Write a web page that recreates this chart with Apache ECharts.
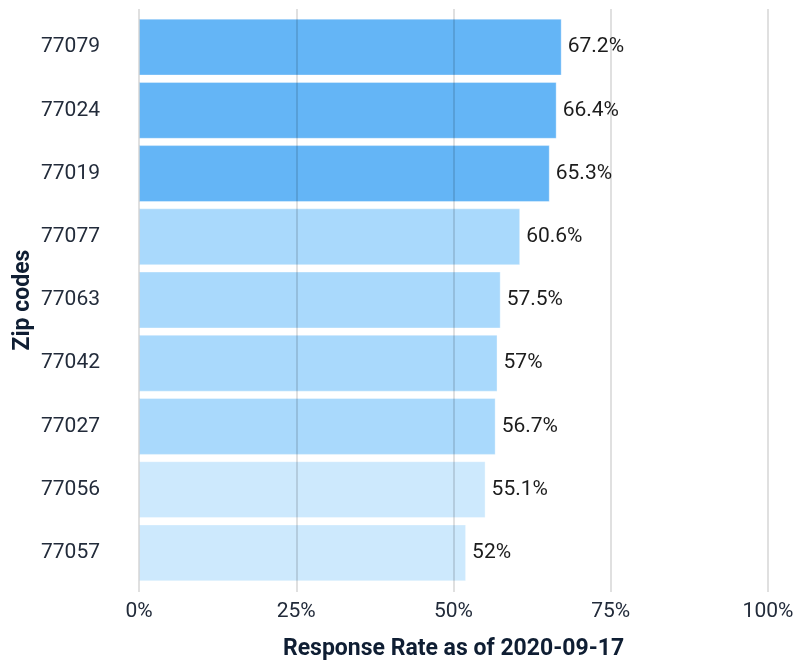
<!DOCTYPE html>
<html>
<head>
<meta charset="utf-8">
<script src="https://cdn.jsdelivr.net/npm/echarts@6/dist/echarts.min.js"></script>
<style>
html,body{margin:0;padding:0;background:#fff;}
#c{width:796px;height:663px;}
</style>
</head>
<body>
<div id="c"></div>
<script>
const zipCodes = ['77079','77024','77019','77077','77063','77042','77027','77056','77057'];
const responseRates = [67.2, 66.4, 65.3, 60.6, 57.5, 57, 56.7, 55.1, 52];
const xTicks = [0, 25, 50, 75, 100];

const FONT = 'Roboto';
const chart = echarts.init(document.getElementById('c'), null, {renderer: 'canvas'});
chart.setOption({
  backgroundColor: '#fff',
  animation: false,
  grid: [
    {left: 139, right: 28, top: 9, bottom: 71, outerBoundsMode: 'none', containLabel: false},
    {left: 139, right: 28, top: 15.5, bottom: 78.5, outerBoundsMode: 'none', containLabel: false}
  ],
  visualMap: {
    show: false,
    type: 'piecewise',
    seriesIndex: 0,
    dimension: 0,
    pieces: [
      {gte: 62, color: '#64b5f6'},
      {gte: 56, lt: 62, color: '#a9d9fc'},
      {lt: 56, color: '#cde9fd'}
    ]
  },
  xAxis: [
    {
      gridIndex: 0, type: 'value', min: xTicks[0], max: xTicks[xTicks.length - 1], interval: 25,
      z: 10,
      axisLine: {show: false}, axisTick: {show: false},
      splitLine: {show: true, lineStyle: {color: 'rgba(0,0,0,0.12)', width: 2}},
      axisLabel: {formatter: '{value}%', color: '#222b3a', fontSize: 21, fontFamily: FONT, margin: 9},
      name: 'Response Rate as of 2020-09-17', nameLocation: 'middle', nameGap: 57, nameMoveOverlap: false,
      nameTextStyle: {color: '#0f1e33', fontSize: 23, fontWeight: 'bold', fontFamily: FONT, verticalAlign: 'middle'}
    },
    {gridIndex: 1, type: 'value', min: 0, max: 100, show: false}
  ],
  yAxis: [
    {gridIndex: 0, type: 'category', data: [''], show: false},
    {
      gridIndex: 1, type: 'category', data: zipCodes, inverse: true,
      axisLine: {show: false}, axisTick: {show: false},
      axisLabel: {color: '#222b3a', fontSize: 21, fontFamily: FONT, margin: 39},
      name: 'Zip codes', nameLocation: 'middle', nameGap: 116, nameRotate: 90, nameMoveOverlap: false,
      nameTextStyle: {color: '#0f1e33', fontSize: 23, fontWeight: 'bold', fontFamily: FONT, verticalAlign: 'middle'}
    }
  ],
  series: [{
    type: 'bar', xAxisIndex: 1, yAxisIndex: 1,
    data: responseRates,
    barCategoryGap: '10%',
    itemStyle: {borderColor: 'rgba(255,255,255,0.35)', borderWidth: 1},
    label: {show: true, position: 'right', distance: 6, formatter: '{c}%', color: '#1c1c1c', fontSize: 21, fontFamily: FONT}
  }]
});
</script>
</body>
</html>
